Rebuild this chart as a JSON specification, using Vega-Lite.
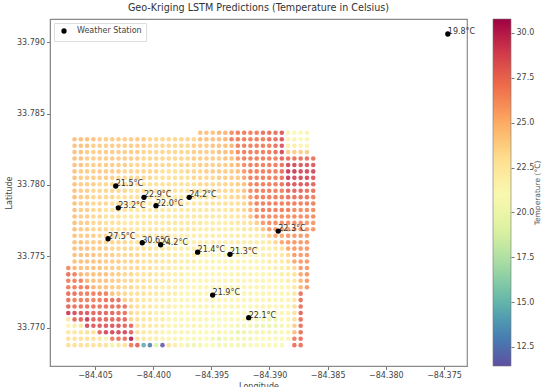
{"$schema":"https://vega.github.io/schema/vega-lite/v6.json","width":417,"height":347,"autosize":{"type":"none"},"padding":{"left":50,"top":19,"right":75,"bottom":21},"background":"white","config":{"font":"DejaVu Sans","view":{"stroke":"#8a8a8a","strokeWidth":1.2}},"title":{"text":"Geo-Kriging LSTM Predictions (Temperature in Celsius)","fontSize":9.6,"fontWeight":"normal","color":"#333","font":"DejaVu Sans","offset":6,"frame":"group"},"datasets":{"grid":[
{"x":-84.39596,"y":33.78365,"t":24.5},{"x":-84.39542,"y":33.78365,"t":24.5},{"x":-84.39488,"y":33.78365,"t":24.5},{"x":-84.39434,"y":33.78365,"t":25},{"x":-84.3938,"y":33.78365,"t":25},{"x":-84.39326,"y":33.78365,"t":26.5},{"x":-84.39272,"y":33.78365,"t":27},{"x":-84.39218,"y":33.78365,"t":27},{"x":-84.39164,"y":33.78365,"t":27},{"x":-84.3911,"y":33.78365,"t":27},{"x":-84.39056,"y":33.78365,"t":27.5},{"x":-84.39002,"y":33.78365,"t":27.5},{"x":-84.38948,"y":33.78365,"t":27.5},{"x":-84.38894,"y":33.78365,"t":28.5},{"x":-84.3884,"y":33.78365,"t":21.5},{"x":-84.38786,"y":33.78365,"t":21},{"x":-84.38732,"y":33.78365,"t":21},{"x":-84.38678,"y":33.78365,"t":21.5},
{"x":-84.40676,"y":33.7832,"t":24.5},{"x":-84.40622,"y":33.7832,"t":24.5},{"x":-84.40568,"y":33.7832,"t":24.5},{"x":-84.40514,"y":33.7832,"t":24.5},{"x":-84.4046,"y":33.7832,"t":24},{"x":-84.40406,"y":33.7832,"t":24},{"x":-84.40352,"y":33.7832,"t":24},{"x":-84.40298,"y":33.7832,"t":24},{"x":-84.40244,"y":33.7832,"t":24},{"x":-84.4019,"y":33.7832,"t":24},{"x":-84.40136,"y":33.7832,"t":24},{"x":-84.40082,"y":33.7832,"t":24},{"x":-84.40028,"y":33.7832,"t":23.5},{"x":-84.39974,"y":33.7832,"t":23.5},{"x":-84.3992,"y":33.7832,"t":23.5},{"x":-84.39866,"y":33.7832,"t":23.5},{"x":-84.39812,"y":33.7832,"t":23.5},{"x":-84.39758,"y":33.7832,"t":23.5},{"x":-84.39704,"y":33.7832,"t":23.5},{"x":-84.3965,"y":33.7832,"t":23.5},{"x":-84.39596,"y":33.7832,"t":24.5},{"x":-84.39542,"y":33.7832,"t":24.5},{"x":-84.39488,"y":33.7832,"t":24.5},{"x":-84.39434,"y":33.7832,"t":24.5},{"x":-84.3938,"y":33.7832,"t":25},{"x":-84.39326,"y":33.7832,"t":27},{"x":-84.39272,"y":33.7832,"t":27},{"x":-84.39218,"y":33.7832,"t":27},{"x":-84.39164,"y":33.7832,"t":27},{"x":-84.3911,"y":33.7832,"t":27},{"x":-84.39056,"y":33.7832,"t":27},{"x":-84.39002,"y":33.7832,"t":27.5},{"x":-84.38948,"y":33.7832,"t":27.5},{"x":-84.38894,"y":33.7832,"t":28.5},{"x":-84.3884,"y":33.7832,"t":21.5},{"x":-84.38786,"y":33.7832,"t":21.5},{"x":-84.38732,"y":33.7832,"t":21},{"x":-84.38678,"y":33.7832,"t":21.5},
{"x":-84.40676,"y":33.78275,"t":24.5},{"x":-84.40622,"y":33.78275,"t":24.5},{"x":-84.40568,"y":33.78275,"t":24.5},{"x":-84.40514,"y":33.78275,"t":24},{"x":-84.4046,"y":33.78275,"t":24},{"x":-84.40406,"y":33.78275,"t":24},{"x":-84.40352,"y":33.78275,"t":24},{"x":-84.40298,"y":33.78275,"t":24},{"x":-84.40244,"y":33.78275,"t":24},{"x":-84.4019,"y":33.78275,"t":24},{"x":-84.40136,"y":33.78275,"t":24},{"x":-84.40082,"y":33.78275,"t":24},{"x":-84.40028,"y":33.78275,"t":23.5},{"x":-84.39974,"y":33.78275,"t":23.5},{"x":-84.3992,"y":33.78275,"t":23.5},{"x":-84.39866,"y":33.78275,"t":23.5},{"x":-84.39812,"y":33.78275,"t":23.5},{"x":-84.39758,"y":33.78275,"t":23.5},{"x":-84.39704,"y":33.78275,"t":23.5},{"x":-84.3965,"y":33.78275,"t":24},{"x":-84.39596,"y":33.78275,"t":24},{"x":-84.39542,"y":33.78275,"t":24},{"x":-84.39488,"y":33.78275,"t":24.5},{"x":-84.39434,"y":33.78275,"t":24.5},{"x":-84.3938,"y":33.78275,"t":24.5},{"x":-84.39326,"y":33.78275,"t":25},{"x":-84.39272,"y":33.78275,"t":27},{"x":-84.39218,"y":33.78275,"t":27},{"x":-84.39164,"y":33.78275,"t":27},{"x":-84.3911,"y":33.78275,"t":27},{"x":-84.39056,"y":33.78275,"t":27},{"x":-84.39002,"y":33.78275,"t":27},{"x":-84.38948,"y":33.78275,"t":27.5},{"x":-84.38894,"y":33.78275,"t":28.5},{"x":-84.3884,"y":33.78275,"t":22},{"x":-84.38786,"y":33.78275,"t":22},{"x":-84.38732,"y":33.78275,"t":21.5},{"x":-84.38678,"y":33.78275,"t":21.5},
{"x":-84.40676,"y":33.7823,"t":24.5},{"x":-84.40622,"y":33.7823,"t":24.5},{"x":-84.40568,"y":33.7823,"t":24},{"x":-84.40514,"y":33.7823,"t":24},{"x":-84.4046,"y":33.7823,"t":24},{"x":-84.40406,"y":33.7823,"t":24},{"x":-84.40352,"y":33.7823,"t":24},{"x":-84.40298,"y":33.7823,"t":24},{"x":-84.40244,"y":33.7823,"t":24},{"x":-84.4019,"y":33.7823,"t":24},{"x":-84.40136,"y":33.7823,"t":24},{"x":-84.40082,"y":33.7823,"t":23.5},{"x":-84.40028,"y":33.7823,"t":23.5},{"x":-84.39974,"y":33.7823,"t":23.5},{"x":-84.3992,"y":33.7823,"t":23.5},{"x":-84.39866,"y":33.7823,"t":23.5},{"x":-84.39812,"y":33.7823,"t":23.5},{"x":-84.39758,"y":33.7823,"t":23.5},{"x":-84.39704,"y":33.7823,"t":23.5},{"x":-84.3965,"y":33.7823,"t":24},{"x":-84.39596,"y":33.7823,"t":24},{"x":-84.39542,"y":33.7823,"t":24},{"x":-84.39488,"y":33.7823,"t":24},{"x":-84.39434,"y":33.7823,"t":24.5},{"x":-84.3938,"y":33.7823,"t":24.5},{"x":-84.39326,"y":33.7823,"t":25},{"x":-84.39272,"y":33.7823,"t":26.5},{"x":-84.39218,"y":33.7823,"t":27},{"x":-84.39164,"y":33.7823,"t":27},{"x":-84.3911,"y":33.7823,"t":27},{"x":-84.39056,"y":33.7823,"t":27},{"x":-84.39002,"y":33.7823,"t":27},{"x":-84.38948,"y":33.7823,"t":27.5},{"x":-84.38894,"y":33.7823,"t":29},{"x":-84.3884,"y":33.7823,"t":24},{"x":-84.38786,"y":33.7823,"t":24},{"x":-84.38732,"y":33.7823,"t":24},{"x":-84.38678,"y":33.7823,"t":24},
{"x":-84.40676,"y":33.78185,"t":24.5},{"x":-84.40622,"y":33.78185,"t":24.5},{"x":-84.40568,"y":33.78185,"t":24},{"x":-84.40514,"y":33.78185,"t":24},{"x":-84.4046,"y":33.78185,"t":24},{"x":-84.40406,"y":33.78185,"t":24},{"x":-84.40352,"y":33.78185,"t":24},{"x":-84.40298,"y":33.78185,"t":24},{"x":-84.40244,"y":33.78185,"t":24},{"x":-84.4019,"y":33.78185,"t":24},{"x":-84.40136,"y":33.78185,"t":24},{"x":-84.40082,"y":33.78185,"t":23.5},{"x":-84.40028,"y":33.78185,"t":23.5},{"x":-84.39974,"y":33.78185,"t":23.5},{"x":-84.3992,"y":33.78185,"t":23.5},{"x":-84.39866,"y":33.78185,"t":23.5},{"x":-84.39812,"y":33.78185,"t":23.5},{"x":-84.39758,"y":33.78185,"t":23.5},{"x":-84.39704,"y":33.78185,"t":23.5},{"x":-84.3965,"y":33.78185,"t":24},{"x":-84.39596,"y":33.78185,"t":24},{"x":-84.39542,"y":33.78185,"t":24},{"x":-84.39488,"y":33.78185,"t":24},{"x":-84.39434,"y":33.78185,"t":24},{"x":-84.3938,"y":33.78185,"t":24.5},{"x":-84.39326,"y":33.78185,"t":24.5},{"x":-84.39272,"y":33.78185,"t":26},{"x":-84.39218,"y":33.78185,"t":27},{"x":-84.39164,"y":33.78185,"t":27},{"x":-84.3911,"y":33.78185,"t":27},{"x":-84.39056,"y":33.78185,"t":27},{"x":-84.39002,"y":33.78185,"t":27},{"x":-84.38948,"y":33.78185,"t":27},{"x":-84.38894,"y":33.78185,"t":28},{"x":-84.3884,"y":33.78185,"t":27.5},{"x":-84.38786,"y":33.78185,"t":27.5},{"x":-84.38732,"y":33.78185,"t":27.5},{"x":-84.38678,"y":33.78185,"t":27.5},{"x":-84.38624,"y":33.78185,"t":27.5},
{"x":-84.40676,"y":33.7814,"t":24.5},{"x":-84.40622,"y":33.7814,"t":24.5},{"x":-84.40568,"y":33.7814,"t":24},{"x":-84.40514,"y":33.7814,"t":24},{"x":-84.4046,"y":33.7814,"t":24},{"x":-84.40406,"y":33.7814,"t":24},{"x":-84.40352,"y":33.7814,"t":24},{"x":-84.40298,"y":33.7814,"t":24},{"x":-84.40244,"y":33.7814,"t":24},{"x":-84.4019,"y":33.7814,"t":23.5},{"x":-84.40136,"y":33.7814,"t":23.5},{"x":-84.40082,"y":33.7814,"t":23.5},{"x":-84.40028,"y":33.7814,"t":23.5},{"x":-84.39974,"y":33.7814,"t":23.5},{"x":-84.3992,"y":33.7814,"t":23.5},{"x":-84.39866,"y":33.7814,"t":23.5},{"x":-84.39812,"y":33.7814,"t":23},{"x":-84.39758,"y":33.7814,"t":23.5},{"x":-84.39704,"y":33.7814,"t":23.5},{"x":-84.3965,"y":33.7814,"t":23.5},{"x":-84.39596,"y":33.7814,"t":24},{"x":-84.39542,"y":33.7814,"t":24},{"x":-84.39488,"y":33.7814,"t":24},{"x":-84.39434,"y":33.7814,"t":24},{"x":-84.3938,"y":33.7814,"t":24},{"x":-84.39326,"y":33.7814,"t":24.5},{"x":-84.39272,"y":33.7814,"t":25},{"x":-84.39218,"y":33.7814,"t":26.5},{"x":-84.39164,"y":33.7814,"t":27},{"x":-84.3911,"y":33.7814,"t":27},{"x":-84.39056,"y":33.7814,"t":27},{"x":-84.39002,"y":33.7814,"t":27},{"x":-84.38948,"y":33.7814,"t":27},{"x":-84.38894,"y":33.7814,"t":27.5},{"x":-84.3884,"y":33.7814,"t":29},{"x":-84.38786,"y":33.7814,"t":29},{"x":-84.38732,"y":33.7814,"t":28.5},{"x":-84.38678,"y":33.7814,"t":28.5},{"x":-84.38624,"y":33.7814,"t":28.5},
{"x":-84.40676,"y":33.78095,"t":24.5},{"x":-84.40622,"y":33.78095,"t":24},{"x":-84.40568,"y":33.78095,"t":24},{"x":-84.40514,"y":33.78095,"t":24},{"x":-84.4046,"y":33.78095,"t":24},{"x":-84.40406,"y":33.78095,"t":24},{"x":-84.40352,"y":33.78095,"t":24},{"x":-84.40298,"y":33.78095,"t":24},{"x":-84.40244,"y":33.78095,"t":23.5},{"x":-84.4019,"y":33.78095,"t":23.5},{"x":-84.40136,"y":33.78095,"t":23.5},{"x":-84.40082,"y":33.78095,"t":23.5},{"x":-84.40028,"y":33.78095,"t":23.5},{"x":-84.39974,"y":33.78095,"t":23.5},{"x":-84.3992,"y":33.78095,"t":23},{"x":-84.39866,"y":33.78095,"t":23},{"x":-84.39812,"y":33.78095,"t":23},{"x":-84.39758,"y":33.78095,"t":23},{"x":-84.39704,"y":33.78095,"t":23.5},{"x":-84.3965,"y":33.78095,"t":23.5},{"x":-84.39596,"y":33.78095,"t":23.5},{"x":-84.39542,"y":33.78095,"t":24},{"x":-84.39488,"y":33.78095,"t":24},{"x":-84.39434,"y":33.78095,"t":24},{"x":-84.3938,"y":33.78095,"t":24},{"x":-84.39326,"y":33.78095,"t":24},{"x":-84.39272,"y":33.78095,"t":24.5},{"x":-84.39218,"y":33.78095,"t":26},{"x":-84.39164,"y":33.78095,"t":27},{"x":-84.3911,"y":33.78095,"t":27},{"x":-84.39056,"y":33.78095,"t":27},{"x":-84.39002,"y":33.78095,"t":27},{"x":-84.38948,"y":33.78095,"t":27},{"x":-84.38894,"y":33.78095,"t":27.5},{"x":-84.3884,"y":33.78095,"t":29.5},{"x":-84.38786,"y":33.78095,"t":29.5},{"x":-84.38732,"y":33.78095,"t":29},{"x":-84.38678,"y":33.78095,"t":29},{"x":-84.38624,"y":33.78095,"t":29},
{"x":-84.40676,"y":33.7805,"t":24.5},{"x":-84.40622,"y":33.7805,"t":24},{"x":-84.40568,"y":33.7805,"t":24},{"x":-84.40514,"y":33.7805,"t":24},{"x":-84.4046,"y":33.7805,"t":24},{"x":-84.40406,"y":33.7805,"t":24},{"x":-84.40352,"y":33.7805,"t":24},{"x":-84.40298,"y":33.7805,"t":23.5},{"x":-84.40244,"y":33.7805,"t":23.5},{"x":-84.4019,"y":33.7805,"t":23.5},{"x":-84.40136,"y":33.7805,"t":23.5},{"x":-84.40082,"y":33.7805,"t":23.5},{"x":-84.40028,"y":33.7805,"t":23.5},{"x":-84.39974,"y":33.7805,"t":23},{"x":-84.3992,"y":33.7805,"t":23},{"x":-84.39866,"y":33.7805,"t":23},{"x":-84.39812,"y":33.7805,"t":23},{"x":-84.39758,"y":33.7805,"t":23},{"x":-84.39704,"y":33.7805,"t":23},{"x":-84.3965,"y":33.7805,"t":23.5},{"x":-84.39596,"y":33.7805,"t":23.5},{"x":-84.39542,"y":33.7805,"t":23.5},{"x":-84.39488,"y":33.7805,"t":23.5},{"x":-84.39434,"y":33.7805,"t":24},{"x":-84.3938,"y":33.7805,"t":24},{"x":-84.39326,"y":33.7805,"t":24},{"x":-84.39272,"y":33.7805,"t":24},{"x":-84.39218,"y":33.7805,"t":25.5},{"x":-84.39164,"y":33.7805,"t":27},{"x":-84.3911,"y":33.7805,"t":27},{"x":-84.39056,"y":33.7805,"t":27},{"x":-84.39002,"y":33.7805,"t":27},{"x":-84.38948,"y":33.7805,"t":27},{"x":-84.38894,"y":33.7805,"t":27.5},{"x":-84.3884,"y":33.7805,"t":29.5},{"x":-84.38786,"y":33.7805,"t":29},{"x":-84.38732,"y":33.7805,"t":29},{"x":-84.38678,"y":33.7805,"t":29},{"x":-84.38624,"y":33.7805,"t":28.5},
{"x":-84.40676,"y":33.78005,"t":24.5},{"x":-84.40622,"y":33.78005,"t":24},{"x":-84.40568,"y":33.78005,"t":24},{"x":-84.40514,"y":33.78005,"t":24},{"x":-84.4046,"y":33.78005,"t":23.5},{"x":-84.40406,"y":33.78005,"t":23.5},{"x":-84.40352,"y":33.78005,"t":23.5},{"x":-84.40298,"y":33.78005,"t":23.5},{"x":-84.40244,"y":33.78005,"t":23.5},{"x":-84.4019,"y":33.78005,"t":23.5},{"x":-84.40136,"y":33.78005,"t":23.5},{"x":-84.40082,"y":33.78005,"t":23},{"x":-84.40028,"y":33.78005,"t":23},{"x":-84.39974,"y":33.78005,"t":23},{"x":-84.3992,"y":33.78005,"t":23},{"x":-84.39866,"y":33.78005,"t":23},{"x":-84.39812,"y":33.78005,"t":23},{"x":-84.39758,"y":33.78005,"t":23},{"x":-84.39704,"y":33.78005,"t":23},{"x":-84.3965,"y":33.78005,"t":23},{"x":-84.39596,"y":33.78005,"t":23.5},{"x":-84.39542,"y":33.78005,"t":23.5},{"x":-84.39488,"y":33.78005,"t":23.5},{"x":-84.39434,"y":33.78005,"t":23.5},{"x":-84.3938,"y":33.78005,"t":23.5},{"x":-84.39326,"y":33.78005,"t":23.5},{"x":-84.39272,"y":33.78005,"t":24},{"x":-84.39218,"y":33.78005,"t":24.5},{"x":-84.39164,"y":33.78005,"t":26.5},{"x":-84.3911,"y":33.78005,"t":27},{"x":-84.39056,"y":33.78005,"t":27},{"x":-84.39002,"y":33.78005,"t":27},{"x":-84.38948,"y":33.78005,"t":27},{"x":-84.38894,"y":33.78005,"t":27.5},{"x":-84.3884,"y":33.78005,"t":28.5},{"x":-84.38786,"y":33.78005,"t":28.5},{"x":-84.38732,"y":33.78005,"t":28.5},{"x":-84.38678,"y":33.78005,"t":28.5},{"x":-84.38624,"y":33.78005,"t":28},
{"x":-84.40676,"y":33.7796,"t":24.5},{"x":-84.40622,"y":33.7796,"t":24},{"x":-84.40568,"y":33.7796,"t":24},{"x":-84.40514,"y":33.7796,"t":23.5},{"x":-84.4046,"y":33.7796,"t":23.5},{"x":-84.40406,"y":33.7796,"t":23.5},{"x":-84.40352,"y":33.7796,"t":23.5},{"x":-84.40298,"y":33.7796,"t":23.5},{"x":-84.40244,"y":33.7796,"t":23.5},{"x":-84.4019,"y":33.7796,"t":23},{"x":-84.40136,"y":33.7796,"t":23},{"x":-84.40082,"y":33.7796,"t":23},{"x":-84.40028,"y":33.7796,"t":23},{"x":-84.39974,"y":33.7796,"t":23},{"x":-84.3992,"y":33.7796,"t":23},{"x":-84.39866,"y":33.7796,"t":23},{"x":-84.39812,"y":33.7796,"t":23},{"x":-84.39758,"y":33.7796,"t":22.5},{"x":-84.39704,"y":33.7796,"t":23},{"x":-84.3965,"y":33.7796,"t":23},{"x":-84.39596,"y":33.7796,"t":23},{"x":-84.39542,"y":33.7796,"t":23.5},{"x":-84.39488,"y":33.7796,"t":23.5},{"x":-84.39434,"y":33.7796,"t":23.5},{"x":-84.3938,"y":33.7796,"t":23.5},{"x":-84.39326,"y":33.7796,"t":23.5},{"x":-84.39272,"y":33.7796,"t":23.5},{"x":-84.39218,"y":33.7796,"t":24.5},{"x":-84.39164,"y":33.7796,"t":26.5},{"x":-84.3911,"y":33.7796,"t":27},{"x":-84.39056,"y":33.7796,"t":27},{"x":-84.39002,"y":33.7796,"t":27},{"x":-84.38948,"y":33.7796,"t":27},{"x":-84.38894,"y":33.7796,"t":27},{"x":-84.3884,"y":33.7796,"t":28},{"x":-84.38786,"y":33.7796,"t":28},{"x":-84.38732,"y":33.7796,"t":28},{"x":-84.38678,"y":33.7796,"t":27.5},{"x":-84.38624,"y":33.7796,"t":27.5},
{"x":-84.40676,"y":33.77915,"t":24.5},{"x":-84.40622,"y":33.77915,"t":24},{"x":-84.40568,"y":33.77915,"t":24},{"x":-84.40514,"y":33.77915,"t":23.5},{"x":-84.4046,"y":33.77915,"t":23.5},{"x":-84.40406,"y":33.77915,"t":23.5},{"x":-84.40352,"y":33.77915,"t":23.5},{"x":-84.40298,"y":33.77915,"t":23},{"x":-84.40244,"y":33.77915,"t":23},{"x":-84.4019,"y":33.77915,"t":23},{"x":-84.40136,"y":33.77915,"t":23},{"x":-84.40082,"y":33.77915,"t":22.5},{"x":-84.40028,"y":33.77915,"t":22.5},{"x":-84.39974,"y":33.77915,"t":22.5},{"x":-84.3992,"y":33.77915,"t":22.5},{"x":-84.39866,"y":33.77915,"t":22.5},{"x":-84.39812,"y":33.77915,"t":22.5},{"x":-84.39758,"y":33.77915,"t":22.5},{"x":-84.39704,"y":33.77915,"t":22.5},{"x":-84.3965,"y":33.77915,"t":23},{"x":-84.39596,"y":33.77915,"t":23},{"x":-84.39542,"y":33.77915,"t":23},{"x":-84.39488,"y":33.77915,"t":23},{"x":-84.39434,"y":33.77915,"t":23},{"x":-84.3938,"y":33.77915,"t":23},{"x":-84.39326,"y":33.77915,"t":23.5},{"x":-84.39272,"y":33.77915,"t":23.5},{"x":-84.39218,"y":33.77915,"t":24},{"x":-84.39164,"y":33.77915,"t":26},{"x":-84.3911,"y":33.77915,"t":27},{"x":-84.39056,"y":33.77915,"t":27},{"x":-84.39002,"y":33.77915,"t":27},{"x":-84.38948,"y":33.77915,"t":27},{"x":-84.38894,"y":33.77915,"t":27},{"x":-84.3884,"y":33.77915,"t":27.5},{"x":-84.38786,"y":33.77915,"t":27.5},{"x":-84.38732,"y":33.77915,"t":27.5},{"x":-84.38678,"y":33.77915,"t":27.5},{"x":-84.38624,"y":33.77915,"t":27},
{"x":-84.40676,"y":33.7787,"t":24.5},{"x":-84.40622,"y":33.7787,"t":24},{"x":-84.40568,"y":33.7787,"t":24},{"x":-84.40514,"y":33.7787,"t":23.5},{"x":-84.4046,"y":33.7787,"t":23.5},{"x":-84.40406,"y":33.7787,"t":23.5},{"x":-84.40352,"y":33.7787,"t":23},{"x":-84.40298,"y":33.7787,"t":23},{"x":-84.40244,"y":33.7787,"t":23},{"x":-84.4019,"y":33.7787,"t":23},{"x":-84.40136,"y":33.7787,"t":22.5},{"x":-84.40082,"y":33.7787,"t":22.5},{"x":-84.40028,"y":33.7787,"t":22.5},{"x":-84.39974,"y":33.7787,"t":22.5},{"x":-84.3992,"y":33.7787,"t":22.5},{"x":-84.39866,"y":33.7787,"t":22.5},{"x":-84.39812,"y":33.7787,"t":22.5},{"x":-84.39758,"y":33.7787,"t":22.5},{"x":-84.39704,"y":33.7787,"t":22.5},{"x":-84.3965,"y":33.7787,"t":22.5},{"x":-84.39596,"y":33.7787,"t":22.5},{"x":-84.39542,"y":33.7787,"t":23},{"x":-84.39488,"y":33.7787,"t":23},{"x":-84.39434,"y":33.7787,"t":23},{"x":-84.3938,"y":33.7787,"t":23},{"x":-84.39326,"y":33.7787,"t":23},{"x":-84.39272,"y":33.7787,"t":23},{"x":-84.39218,"y":33.7787,"t":23.5},{"x":-84.39164,"y":33.7787,"t":25.5},{"x":-84.3911,"y":33.7787,"t":27},{"x":-84.39056,"y":33.7787,"t":27},{"x":-84.39002,"y":33.7787,"t":27},{"x":-84.38948,"y":33.7787,"t":27},{"x":-84.38894,"y":33.7787,"t":27},{"x":-84.3884,"y":33.7787,"t":27},{"x":-84.38786,"y":33.7787,"t":27},{"x":-84.38732,"y":33.7787,"t":27},{"x":-84.38678,"y":33.7787,"t":27},{"x":-84.38624,"y":33.7787,"t":27},
{"x":-84.40676,"y":33.77825,"t":24.5},{"x":-84.40622,"y":33.77825,"t":24},{"x":-84.40568,"y":33.77825,"t":24},{"x":-84.40514,"y":33.77825,"t":23.5},{"x":-84.4046,"y":33.77825,"t":23.5},{"x":-84.40406,"y":33.77825,"t":23},{"x":-84.40352,"y":33.77825,"t":23},{"x":-84.40298,"y":33.77825,"t":23},{"x":-84.40244,"y":33.77825,"t":23},{"x":-84.4019,"y":33.77825,"t":22.5},{"x":-84.40136,"y":33.77825,"t":22.5},{"x":-84.40082,"y":33.77825,"t":22.5},{"x":-84.40028,"y":33.77825,"t":22.5},{"x":-84.39974,"y":33.77825,"t":22.5},{"x":-84.3992,"y":33.77825,"t":22.5},{"x":-84.39866,"y":33.77825,"t":22.5},{"x":-84.39812,"y":33.77825,"t":22.5},{"x":-84.39758,"y":33.77825,"t":22.5},{"x":-84.39704,"y":33.77825,"t":22.5},{"x":-84.3965,"y":33.77825,"t":22.5},{"x":-84.39596,"y":33.77825,"t":22.5},{"x":-84.39542,"y":33.77825,"t":22.5},{"x":-84.39488,"y":33.77825,"t":22.5},{"x":-84.39434,"y":33.77825,"t":22.5},{"x":-84.3938,"y":33.77825,"t":22.5},{"x":-84.39326,"y":33.77825,"t":23},{"x":-84.39272,"y":33.77825,"t":23},{"x":-84.39218,"y":33.77825,"t":23.5},{"x":-84.39164,"y":33.77825,"t":25},{"x":-84.3911,"y":33.77825,"t":26.5},{"x":-84.39056,"y":33.77825,"t":27},{"x":-84.39002,"y":33.77825,"t":27},{"x":-84.38948,"y":33.77825,"t":27},{"x":-84.38894,"y":33.77825,"t":27},{"x":-84.3884,"y":33.77825,"t":27},{"x":-84.38786,"y":33.77825,"t":26.5},{"x":-84.38732,"y":33.77825,"t":26.5},{"x":-84.38678,"y":33.77825,"t":26.5},{"x":-84.38624,"y":33.77825,"t":26.5},
{"x":-84.40676,"y":33.7778,"t":24.5},{"x":-84.40622,"y":33.7778,"t":24},{"x":-84.40568,"y":33.7778,"t":24},{"x":-84.40514,"y":33.7778,"t":23.5},{"x":-84.4046,"y":33.7778,"t":23.5},{"x":-84.40406,"y":33.7778,"t":23},{"x":-84.40352,"y":33.7778,"t":23},{"x":-84.40298,"y":33.7778,"t":23},{"x":-84.40244,"y":33.7778,"t":22.5},{"x":-84.4019,"y":33.7778,"t":22.5},{"x":-84.40136,"y":33.7778,"t":22.5},{"x":-84.40082,"y":33.7778,"t":22.5},{"x":-84.40028,"y":33.7778,"t":22.5},{"x":-84.39974,"y":33.7778,"t":22.5},{"x":-84.3992,"y":33.7778,"t":22.5},{"x":-84.39866,"y":33.7778,"t":22.5},{"x":-84.39812,"y":33.7778,"t":22.5},{"x":-84.39758,"y":33.7778,"t":22.5},{"x":-84.39704,"y":33.7778,"t":22.5},{"x":-84.3965,"y":33.7778,"t":22.5},{"x":-84.39596,"y":33.7778,"t":22.5},{"x":-84.39542,"y":33.7778,"t":22.5},{"x":-84.39488,"y":33.7778,"t":22.5},{"x":-84.39434,"y":33.7778,"t":22.5},{"x":-84.3938,"y":33.7778,"t":22.5},{"x":-84.39326,"y":33.7778,"t":22.5},{"x":-84.39272,"y":33.7778,"t":22.5},{"x":-84.39218,"y":33.7778,"t":23},{"x":-84.39164,"y":33.7778,"t":24.5},{"x":-84.3911,"y":33.7778,"t":26.5},{"x":-84.39056,"y":33.7778,"t":26.5},{"x":-84.39002,"y":33.7778,"t":26.5},{"x":-84.38948,"y":33.7778,"t":26.5},{"x":-84.38894,"y":33.7778,"t":26.5},{"x":-84.3884,"y":33.7778,"t":26.5},{"x":-84.38786,"y":33.7778,"t":26.5},{"x":-84.38732,"y":33.7778,"t":26.5},{"x":-84.38678,"y":33.7778,"t":26.5},{"x":-84.38624,"y":33.7778,"t":26.5},
{"x":-84.40676,"y":33.77735,"t":24.5},{"x":-84.40622,"y":33.77735,"t":24},{"x":-84.40568,"y":33.77735,"t":24},{"x":-84.40514,"y":33.77735,"t":23.5},{"x":-84.4046,"y":33.77735,"t":23.5},{"x":-84.40406,"y":33.77735,"t":23},{"x":-84.40352,"y":33.77735,"t":23},{"x":-84.40298,"y":33.77735,"t":23},{"x":-84.40244,"y":33.77735,"t":22.5},{"x":-84.4019,"y":33.77735,"t":22.5},{"x":-84.40136,"y":33.77735,"t":22.5},{"x":-84.40082,"y":33.77735,"t":22.5},{"x":-84.40028,"y":33.77735,"t":22.5},{"x":-84.39974,"y":33.77735,"t":22.5},{"x":-84.3992,"y":33.77735,"t":22.5},{"x":-84.39866,"y":33.77735,"t":22.5},{"x":-84.39812,"y":33.77735,"t":22.5},{"x":-84.39758,"y":33.77735,"t":22.5},{"x":-84.39704,"y":33.77735,"t":22.5},{"x":-84.3965,"y":33.77735,"t":22.5},{"x":-84.39596,"y":33.77735,"t":22.5},{"x":-84.39542,"y":33.77735,"t":22},{"x":-84.39488,"y":33.77735,"t":22},{"x":-84.39434,"y":33.77735,"t":22},{"x":-84.3938,"y":33.77735,"t":22},{"x":-84.39326,"y":33.77735,"t":22.5},{"x":-84.39272,"y":33.77735,"t":22.5},{"x":-84.39218,"y":33.77735,"t":22.5},{"x":-84.39164,"y":33.77735,"t":23},{"x":-84.3911,"y":33.77735,"t":24},{"x":-84.39056,"y":33.77735,"t":26},{"x":-84.39002,"y":33.77735,"t":26.5},{"x":-84.38948,"y":33.77735,"t":26.5},{"x":-84.38894,"y":33.77735,"t":26.5},{"x":-84.3884,"y":33.77735,"t":26.5},{"x":-84.38786,"y":33.77735,"t":26.5},{"x":-84.38732,"y":33.77735,"t":26.5},{"x":-84.38678,"y":33.77735,"t":26},{"x":-84.38624,"y":33.77735,"t":26},
{"x":-84.40676,"y":33.7769,"t":24.5},{"x":-84.40622,"y":33.7769,"t":24},{"x":-84.40568,"y":33.7769,"t":24},{"x":-84.40514,"y":33.7769,"t":23.5},{"x":-84.4046,"y":33.7769,"t":23.5},{"x":-84.40406,"y":33.7769,"t":23.5},{"x":-84.40352,"y":33.7769,"t":23},{"x":-84.40298,"y":33.7769,"t":23},{"x":-84.40244,"y":33.7769,"t":23},{"x":-84.4019,"y":33.7769,"t":22.5},{"x":-84.40136,"y":33.7769,"t":22.5},{"x":-84.40082,"y":33.7769,"t":22.5},{"x":-84.40028,"y":33.7769,"t":22.5},{"x":-84.39974,"y":33.7769,"t":22.5},{"x":-84.3992,"y":33.7769,"t":22.5},{"x":-84.39866,"y":33.7769,"t":22.5},{"x":-84.39812,"y":33.7769,"t":22.5},{"x":-84.39758,"y":33.7769,"t":22.5},{"x":-84.39704,"y":33.7769,"t":22.5},{"x":-84.3965,"y":33.7769,"t":22.5},{"x":-84.39596,"y":33.7769,"t":22},{"x":-84.39542,"y":33.7769,"t":22},{"x":-84.39488,"y":33.7769,"t":22},{"x":-84.39434,"y":33.7769,"t":22},{"x":-84.3938,"y":33.7769,"t":22},{"x":-84.39326,"y":33.7769,"t":22},{"x":-84.39272,"y":33.7769,"t":22},{"x":-84.39218,"y":33.7769,"t":22.5},{"x":-84.39164,"y":33.7769,"t":22.5},{"x":-84.3911,"y":33.7769,"t":23},{"x":-84.39056,"y":33.7769,"t":24.5},{"x":-84.39002,"y":33.7769,"t":26},{"x":-84.38948,"y":33.7769,"t":26},{"x":-84.38894,"y":33.7769,"t":26},{"x":-84.3884,"y":33.7769,"t":26},{"x":-84.38786,"y":33.7769,"t":26},{"x":-84.38732,"y":33.7769,"t":26},{"x":-84.38678,"y":33.7769,"t":26},{"x":-84.38624,"y":33.7769,"t":26},
{"x":-84.40676,"y":33.77645,"t":24.5},{"x":-84.40622,"y":33.77645,"t":24},{"x":-84.40568,"y":33.77645,"t":24},{"x":-84.40514,"y":33.77645,"t":24},{"x":-84.4046,"y":33.77645,"t":23.5},{"x":-84.40406,"y":33.77645,"t":23.5},{"x":-84.40352,"y":33.77645,"t":23.5},{"x":-84.40298,"y":33.77645,"t":23},{"x":-84.40244,"y":33.77645,"t":23},{"x":-84.4019,"y":33.77645,"t":23},{"x":-84.40136,"y":33.77645,"t":23},{"x":-84.40082,"y":33.77645,"t":22.5},{"x":-84.40028,"y":33.77645,"t":22.5},{"x":-84.39974,"y":33.77645,"t":22.5},{"x":-84.3992,"y":33.77645,"t":22.5},{"x":-84.39866,"y":33.77645,"t":22.5},{"x":-84.39812,"y":33.77645,"t":22},{"x":-84.39758,"y":33.77645,"t":22},{"x":-84.39704,"y":33.77645,"t":22},{"x":-84.3965,"y":33.77645,"t":22},{"x":-84.39596,"y":33.77645,"t":22},{"x":-84.39542,"y":33.77645,"t":22},{"x":-84.39488,"y":33.77645,"t":22},{"x":-84.39434,"y":33.77645,"t":22},{"x":-84.3938,"y":33.77645,"t":22},{"x":-84.39326,"y":33.77645,"t":22},{"x":-84.39272,"y":33.77645,"t":22},{"x":-84.39218,"y":33.77645,"t":22},{"x":-84.39164,"y":33.77645,"t":22},{"x":-84.3911,"y":33.77645,"t":22},{"x":-84.39056,"y":33.77645,"t":22.5},{"x":-84.39002,"y":33.77645,"t":24},{"x":-84.38948,"y":33.77645,"t":25.5},{"x":-84.38894,"y":33.77645,"t":25.5},{"x":-84.3884,"y":33.77645,"t":26},{"x":-84.38786,"y":33.77645,"t":26},{"x":-84.38732,"y":33.77645,"t":26},{"x":-84.38678,"y":33.77645,"t":26},
{"x":-84.40676,"y":33.776,"t":24.5},{"x":-84.40622,"y":33.776,"t":24.5},{"x":-84.40568,"y":33.776,"t":24},{"x":-84.40514,"y":33.776,"t":24},{"x":-84.4046,"y":33.776,"t":24},{"x":-84.40406,"y":33.776,"t":23.5},{"x":-84.40352,"y":33.776,"t":23.5},{"x":-84.40298,"y":33.776,"t":23.5},{"x":-84.40244,"y":33.776,"t":23.5},{"x":-84.4019,"y":33.776,"t":23},{"x":-84.40136,"y":33.776,"t":23},{"x":-84.40082,"y":33.776,"t":23},{"x":-84.40028,"y":33.776,"t":22.5},{"x":-84.39974,"y":33.776,"t":22.5},{"x":-84.3992,"y":33.776,"t":22.5},{"x":-84.39866,"y":33.776,"t":22},{"x":-84.39812,"y":33.776,"t":22},{"x":-84.39758,"y":33.776,"t":22},{"x":-84.39704,"y":33.776,"t":22},{"x":-84.3965,"y":33.776,"t":22},{"x":-84.39596,"y":33.776,"t":22},{"x":-84.39542,"y":33.776,"t":22},{"x":-84.39488,"y":33.776,"t":22},{"x":-84.39434,"y":33.776,"t":22},{"x":-84.3938,"y":33.776,"t":22},{"x":-84.39326,"y":33.776,"t":22},{"x":-84.39272,"y":33.776,"t":22},{"x":-84.39218,"y":33.776,"t":22},{"x":-84.39164,"y":33.776,"t":22},{"x":-84.3911,"y":33.776,"t":22},{"x":-84.39056,"y":33.776,"t":22},{"x":-84.39002,"y":33.776,"t":22.5},{"x":-84.38948,"y":33.776,"t":23.5},{"x":-84.38894,"y":33.776,"t":25.5},{"x":-84.3884,"y":33.776,"t":26},{"x":-84.38786,"y":33.776,"t":26},{"x":-84.38732,"y":33.776,"t":26},{"x":-84.38678,"y":33.776,"t":26},
{"x":-84.40676,"y":33.77555,"t":24.5},{"x":-84.40622,"y":33.77555,"t":24.5},{"x":-84.40568,"y":33.77555,"t":24.5},{"x":-84.40514,"y":33.77555,"t":24},{"x":-84.4046,"y":33.77555,"t":24},{"x":-84.40406,"y":33.77555,"t":24},{"x":-84.40352,"y":33.77555,"t":23.5},{"x":-84.40298,"y":33.77555,"t":23.5},{"x":-84.40244,"y":33.77555,"t":23.5},{"x":-84.4019,"y":33.77555,"t":23.5},{"x":-84.40136,"y":33.77555,"t":23},{"x":-84.40082,"y":33.77555,"t":23},{"x":-84.40028,"y":33.77555,"t":23},{"x":-84.39974,"y":33.77555,"t":22.5},{"x":-84.3992,"y":33.77555,"t":22.5},{"x":-84.39866,"y":33.77555,"t":22.5},{"x":-84.39812,"y":33.77555,"t":22},{"x":-84.39758,"y":33.77555,"t":22},{"x":-84.39704,"y":33.77555,"t":22},{"x":-84.3965,"y":33.77555,"t":22},{"x":-84.39596,"y":33.77555,"t":22},{"x":-84.39542,"y":33.77555,"t":21.5},{"x":-84.39488,"y":33.77555,"t":21.5},{"x":-84.39434,"y":33.77555,"t":21.5},{"x":-84.3938,"y":33.77555,"t":21.5},{"x":-84.39326,"y":33.77555,"t":21.5},{"x":-84.39272,"y":33.77555,"t":21.5},{"x":-84.39218,"y":33.77555,"t":22},{"x":-84.39164,"y":33.77555,"t":22},{"x":-84.3911,"y":33.77555,"t":22},{"x":-84.39056,"y":33.77555,"t":22},{"x":-84.39002,"y":33.77555,"t":22},{"x":-84.38948,"y":33.77555,"t":22.5},{"x":-84.38894,"y":33.77555,"t":23},{"x":-84.3884,"y":33.77555,"t":25.5},{"x":-84.38786,"y":33.77555,"t":26},{"x":-84.38732,"y":33.77555,"t":26},{"x":-84.38678,"y":33.77555,"t":26},
{"x":-84.40676,"y":33.7751,"t":24.5},{"x":-84.40622,"y":33.7751,"t":24.5},{"x":-84.40568,"y":33.7751,"t":24.5},{"x":-84.40514,"y":33.7751,"t":24.5},{"x":-84.4046,"y":33.7751,"t":24},{"x":-84.40406,"y":33.7751,"t":24},{"x":-84.40352,"y":33.7751,"t":24},{"x":-84.40298,"y":33.7751,"t":23.5},{"x":-84.40244,"y":33.7751,"t":23.5},{"x":-84.4019,"y":33.7751,"t":23.5},{"x":-84.40136,"y":33.7751,"t":23.5},{"x":-84.40082,"y":33.7751,"t":23},{"x":-84.40028,"y":33.7751,"t":23},{"x":-84.39974,"y":33.7751,"t":23},{"x":-84.3992,"y":33.7751,"t":22.5},{"x":-84.39866,"y":33.7751,"t":22.5},{"x":-84.39812,"y":33.7751,"t":22.5},{"x":-84.39758,"y":33.7751,"t":22},{"x":-84.39704,"y":33.7751,"t":22},{"x":-84.3965,"y":33.7751,"t":22},{"x":-84.39596,"y":33.7751,"t":21.5},{"x":-84.39542,"y":33.7751,"t":21.5},{"x":-84.39488,"y":33.7751,"t":21.5},{"x":-84.39434,"y":33.7751,"t":21.5},{"x":-84.3938,"y":33.7751,"t":21.5},{"x":-84.39326,"y":33.7751,"t":21.5},{"x":-84.39272,"y":33.7751,"t":21.5},{"x":-84.39218,"y":33.7751,"t":21.5},{"x":-84.39164,"y":33.7751,"t":21.5},{"x":-84.3911,"y":33.7751,"t":21.5},{"x":-84.39056,"y":33.7751,"t":22},{"x":-84.39002,"y":33.7751,"t":22},{"x":-84.38948,"y":33.7751,"t":22},{"x":-84.38894,"y":33.7751,"t":22.5},{"x":-84.3884,"y":33.7751,"t":23.5},{"x":-84.38786,"y":33.7751,"t":26},{"x":-84.38732,"y":33.7751,"t":26},{"x":-84.38678,"y":33.7751,"t":26},
{"x":-84.40676,"y":33.77465,"t":24.5},{"x":-84.40622,"y":33.77465,"t":24.5},{"x":-84.40568,"y":33.77465,"t":24.5},{"x":-84.40514,"y":33.77465,"t":24.5},{"x":-84.4046,"y":33.77465,"t":24.5},{"x":-84.40406,"y":33.77465,"t":24},{"x":-84.40352,"y":33.77465,"t":24},{"x":-84.40298,"y":33.77465,"t":24},{"x":-84.40244,"y":33.77465,"t":23.5},{"x":-84.4019,"y":33.77465,"t":23.5},{"x":-84.40136,"y":33.77465,"t":23.5},{"x":-84.40082,"y":33.77465,"t":23},{"x":-84.40028,"y":33.77465,"t":23},{"x":-84.39974,"y":33.77465,"t":23},{"x":-84.3992,"y":33.77465,"t":22.5},{"x":-84.39866,"y":33.77465,"t":22.5},{"x":-84.39812,"y":33.77465,"t":22.5},{"x":-84.39758,"y":33.77465,"t":22},{"x":-84.39704,"y":33.77465,"t":22},{"x":-84.3965,"y":33.77465,"t":22},{"x":-84.39596,"y":33.77465,"t":21.5},{"x":-84.39542,"y":33.77465,"t":21.5},{"x":-84.39488,"y":33.77465,"t":21.5},{"x":-84.39434,"y":33.77465,"t":21.5},{"x":-84.3938,"y":33.77465,"t":21.5},{"x":-84.39326,"y":33.77465,"t":21.5},{"x":-84.39272,"y":33.77465,"t":21.5},{"x":-84.39218,"y":33.77465,"t":21.5},{"x":-84.39164,"y":33.77465,"t":21.5},{"x":-84.3911,"y":33.77465,"t":21.5},{"x":-84.39056,"y":33.77465,"t":21.5},{"x":-84.39002,"y":33.77465,"t":22},{"x":-84.38948,"y":33.77465,"t":22},{"x":-84.38894,"y":33.77465,"t":22},{"x":-84.3884,"y":33.77465,"t":23},{"x":-84.38786,"y":33.77465,"t":25.5},{"x":-84.38732,"y":33.77465,"t":26},{"x":-84.38678,"y":33.77465,"t":26},
{"x":-84.4073,"y":33.7742,"t":26.5},{"x":-84.40676,"y":33.7742,"t":25},{"x":-84.40622,"y":33.7742,"t":24.5},{"x":-84.40568,"y":33.7742,"t":24.5},{"x":-84.40514,"y":33.7742,"t":24.5},{"x":-84.4046,"y":33.7742,"t":24.5},{"x":-84.40406,"y":33.7742,"t":24},{"x":-84.40352,"y":33.7742,"t":24},{"x":-84.40298,"y":33.7742,"t":24},{"x":-84.40244,"y":33.7742,"t":23.5},{"x":-84.4019,"y":33.7742,"t":23.5},{"x":-84.40136,"y":33.7742,"t":23.5},{"x":-84.40082,"y":33.7742,"t":23},{"x":-84.40028,"y":33.7742,"t":23},{"x":-84.39974,"y":33.7742,"t":22.5},{"x":-84.3992,"y":33.7742,"t":22.5},{"x":-84.39866,"y":33.7742,"t":22.5},{"x":-84.39812,"y":33.7742,"t":22},{"x":-84.39758,"y":33.7742,"t":22},{"x":-84.39704,"y":33.7742,"t":22},{"x":-84.3965,"y":33.7742,"t":21.5},{"x":-84.39596,"y":33.7742,"t":21.5},{"x":-84.39542,"y":33.7742,"t":21.5},{"x":-84.39488,"y":33.7742,"t":21.5},{"x":-84.39434,"y":33.7742,"t":21.5},{"x":-84.3938,"y":33.7742,"t":21.5},{"x":-84.39326,"y":33.7742,"t":21.5},{"x":-84.39272,"y":33.7742,"t":21.5},{"x":-84.39218,"y":33.7742,"t":21.5},{"x":-84.39164,"y":33.7742,"t":21.5},{"x":-84.3911,"y":33.7742,"t":21.5},{"x":-84.39056,"y":33.7742,"t":21.5},{"x":-84.39002,"y":33.7742,"t":21.5},{"x":-84.38948,"y":33.7742,"t":22},{"x":-84.38894,"y":33.7742,"t":22},{"x":-84.3884,"y":33.7742,"t":22.5},{"x":-84.38786,"y":33.7742,"t":23.5},{"x":-84.38732,"y":33.7742,"t":26},{"x":-84.38678,"y":33.7742,"t":26},
{"x":-84.4073,"y":33.77375,"t":27.5},{"x":-84.40676,"y":33.77375,"t":27},{"x":-84.40622,"y":33.77375,"t":25},{"x":-84.40568,"y":33.77375,"t":24.5},{"x":-84.40514,"y":33.77375,"t":24.5},{"x":-84.4046,"y":33.77375,"t":24.5},{"x":-84.40406,"y":33.77375,"t":24.5},{"x":-84.40352,"y":33.77375,"t":24},{"x":-84.40298,"y":33.77375,"t":24},{"x":-84.40244,"y":33.77375,"t":23.5},{"x":-84.4019,"y":33.77375,"t":23.5},{"x":-84.40136,"y":33.77375,"t":23},{"x":-84.40082,"y":33.77375,"t":23},{"x":-84.40028,"y":33.77375,"t":23},{"x":-84.39974,"y":33.77375,"t":22.5},{"x":-84.3992,"y":33.77375,"t":22.5},{"x":-84.39866,"y":33.77375,"t":22},{"x":-84.39812,"y":33.77375,"t":22},{"x":-84.39758,"y":33.77375,"t":22},{"x":-84.39704,"y":33.77375,"t":21.5},{"x":-84.3965,"y":33.77375,"t":21.5},{"x":-84.39596,"y":33.77375,"t":21.5},{"x":-84.39542,"y":33.77375,"t":21.5},{"x":-84.39488,"y":33.77375,"t":21.5},{"x":-84.39434,"y":33.77375,"t":21.5},{"x":-84.3938,"y":33.77375,"t":21.5},{"x":-84.39326,"y":33.77375,"t":21.5},{"x":-84.39272,"y":33.77375,"t":21.5},{"x":-84.39218,"y":33.77375,"t":21.5},{"x":-84.39164,"y":33.77375,"t":21.5},{"x":-84.3911,"y":33.77375,"t":21.5},{"x":-84.39056,"y":33.77375,"t":21.5},{"x":-84.39002,"y":33.77375,"t":21.5},{"x":-84.38948,"y":33.77375,"t":21.5},{"x":-84.38894,"y":33.77375,"t":22},{"x":-84.3884,"y":33.77375,"t":22},{"x":-84.38786,"y":33.77375,"t":23},{"x":-84.38732,"y":33.77375,"t":25.5},{"x":-84.38678,"y":33.77375,"t":26},
{"x":-84.4073,"y":33.7733,"t":27},{"x":-84.40676,"y":33.7733,"t":27},{"x":-84.40622,"y":33.7733,"t":27},{"x":-84.40568,"y":33.7733,"t":25},{"x":-84.40514,"y":33.7733,"t":24.5},{"x":-84.4046,"y":33.7733,"t":24.5},{"x":-84.40406,"y":33.7733,"t":24.5},{"x":-84.40352,"y":33.7733,"t":24},{"x":-84.40298,"y":33.7733,"t":24},{"x":-84.40244,"y":33.7733,"t":23.5},{"x":-84.4019,"y":33.7733,"t":23.5},{"x":-84.40136,"y":33.7733,"t":23},{"x":-84.40082,"y":33.7733,"t":23},{"x":-84.40028,"y":33.7733,"t":22.5},{"x":-84.39974,"y":33.7733,"t":22.5},{"x":-84.3992,"y":33.7733,"t":22.5},{"x":-84.39866,"y":33.7733,"t":22},{"x":-84.39812,"y":33.7733,"t":22},{"x":-84.39758,"y":33.7733,"t":22},{"x":-84.39704,"y":33.7733,"t":21.5},{"x":-84.3965,"y":33.7733,"t":21.5},{"x":-84.39596,"y":33.7733,"t":21.5},{"x":-84.39542,"y":33.7733,"t":21.5},{"x":-84.39488,"y":33.7733,"t":21.5},{"x":-84.39434,"y":33.7733,"t":21.5},{"x":-84.3938,"y":33.7733,"t":21.5},{"x":-84.39326,"y":33.7733,"t":21.5},{"x":-84.39272,"y":33.7733,"t":21.5},{"x":-84.39218,"y":33.7733,"t":21.5},{"x":-84.39164,"y":33.7733,"t":21.5},{"x":-84.3911,"y":33.7733,"t":21.5},{"x":-84.39056,"y":33.7733,"t":21.5},{"x":-84.39002,"y":33.7733,"t":21.5},{"x":-84.38948,"y":33.7733,"t":21.5},{"x":-84.38894,"y":33.7733,"t":21.5},{"x":-84.3884,"y":33.7733,"t":22},{"x":-84.38786,"y":33.7733,"t":22.5},{"x":-84.38732,"y":33.7733,"t":25},{"x":-84.38678,"y":33.7733,"t":26},
{"x":-84.4073,"y":33.77285,"t":27},{"x":-84.40676,"y":33.77285,"t":27},{"x":-84.40622,"y":33.77285,"t":27},{"x":-84.40568,"y":33.77285,"t":27},{"x":-84.40514,"y":33.77285,"t":25},{"x":-84.4046,"y":33.77285,"t":24.5},{"x":-84.40406,"y":33.77285,"t":24.5},{"x":-84.40352,"y":33.77285,"t":24},{"x":-84.40298,"y":33.77285,"t":24},{"x":-84.40244,"y":33.77285,"t":23.5},{"x":-84.4019,"y":33.77285,"t":23.5},{"x":-84.40136,"y":33.77285,"t":23},{"x":-84.40082,"y":33.77285,"t":23},{"x":-84.40028,"y":33.77285,"t":22.5},{"x":-84.39974,"y":33.77285,"t":22.5},{"x":-84.3992,"y":33.77285,"t":22},{"x":-84.39866,"y":33.77285,"t":22},{"x":-84.39812,"y":33.77285,"t":22},{"x":-84.39758,"y":33.77285,"t":21.5},{"x":-84.39704,"y":33.77285,"t":21.5},{"x":-84.3965,"y":33.77285,"t":21.5},{"x":-84.39596,"y":33.77285,"t":21.5},{"x":-84.39542,"y":33.77285,"t":21.5},{"x":-84.39488,"y":33.77285,"t":21.5},{"x":-84.39434,"y":33.77285,"t":21.5},{"x":-84.3938,"y":33.77285,"t":21.5},{"x":-84.39326,"y":33.77285,"t":21.5},{"x":-84.39272,"y":33.77285,"t":21.5},{"x":-84.39218,"y":33.77285,"t":21.5},{"x":-84.39164,"y":33.77285,"t":21.5},{"x":-84.3911,"y":33.77285,"t":21.5},{"x":-84.39056,"y":33.77285,"t":21.5},{"x":-84.39002,"y":33.77285,"t":21.5},{"x":-84.38948,"y":33.77285,"t":21.5},{"x":-84.38894,"y":33.77285,"t":21.5},{"x":-84.3884,"y":33.77285,"t":21.5},{"x":-84.38786,"y":33.77285,"t":22.5},{"x":-84.38732,"y":33.77285,"t":25},{"x":-84.38678,"y":33.77285,"t":26},
{"x":-84.4073,"y":33.7724,"t":27.5},{"x":-84.40676,"y":33.7724,"t":27.5},{"x":-84.40622,"y":33.7724,"t":27},{"x":-84.40568,"y":33.7724,"t":27},{"x":-84.40514,"y":33.7724,"t":27},{"x":-84.4046,"y":33.7724,"t":27},{"x":-84.40406,"y":33.7724,"t":27},{"x":-84.40352,"y":33.7724,"t":24.5},{"x":-84.40298,"y":33.7724,"t":24},{"x":-84.40244,"y":33.7724,"t":23.5},{"x":-84.4019,"y":33.7724,"t":23},{"x":-84.40136,"y":33.7724,"t":23},{"x":-84.40082,"y":33.7724,"t":23},{"x":-84.40028,"y":33.7724,"t":22.5},{"x":-84.39974,"y":33.7724,"t":22.5},{"x":-84.3992,"y":33.7724,"t":22},{"x":-84.39866,"y":33.7724,"t":22},{"x":-84.39812,"y":33.7724,"t":22},{"x":-84.39758,"y":33.7724,"t":21.5},{"x":-84.39704,"y":33.7724,"t":21.5},{"x":-84.3965,"y":33.7724,"t":21.5},{"x":-84.39596,"y":33.7724,"t":21.5},{"x":-84.39542,"y":33.7724,"t":21.5},{"x":-84.39488,"y":33.7724,"t":21.5},{"x":-84.39434,"y":33.7724,"t":21.5},{"x":-84.3938,"y":33.7724,"t":21.5},{"x":-84.39326,"y":33.7724,"t":21.5},{"x":-84.39272,"y":33.7724,"t":21.5},{"x":-84.39218,"y":33.7724,"t":21.5},{"x":-84.39164,"y":33.7724,"t":21.5},{"x":-84.3911,"y":33.7724,"t":21.5},{"x":-84.39056,"y":33.7724,"t":21.5},{"x":-84.39002,"y":33.7724,"t":21.5},{"x":-84.38948,"y":33.7724,"t":21.5},{"x":-84.38894,"y":33.7724,"t":21.5},{"x":-84.3884,"y":33.7724,"t":21.5},{"x":-84.38786,"y":33.7724,"t":22.5},{"x":-84.38732,"y":33.7724,"t":27.5},
{"x":-84.4073,"y":33.77195,"t":27.5},{"x":-84.40676,"y":33.77195,"t":27},{"x":-84.40622,"y":33.77195,"t":27},{"x":-84.40568,"y":33.77195,"t":27},{"x":-84.40514,"y":33.77195,"t":27},{"x":-84.4046,"y":33.77195,"t":27},{"x":-84.40406,"y":33.77195,"t":27.5},{"x":-84.40352,"y":33.77195,"t":27.5},{"x":-84.40298,"y":33.77195,"t":27.5},{"x":-84.40244,"y":33.77195,"t":24},{"x":-84.4019,"y":33.77195,"t":23.5},{"x":-84.40136,"y":33.77195,"t":23},{"x":-84.40082,"y":33.77195,"t":22.5},{"x":-84.40028,"y":33.77195,"t":22.5},{"x":-84.39974,"y":33.77195,"t":22},{"x":-84.3992,"y":33.77195,"t":22},{"x":-84.39866,"y":33.77195,"t":22},{"x":-84.39812,"y":33.77195,"t":21.5},{"x":-84.39758,"y":33.77195,"t":21.5},{"x":-84.39704,"y":33.77195,"t":21.5},{"x":-84.3965,"y":33.77195,"t":21.5},{"x":-84.39596,"y":33.77195,"t":21.5},{"x":-84.39542,"y":33.77195,"t":21.5},{"x":-84.39488,"y":33.77195,"t":21.5},{"x":-84.39434,"y":33.77195,"t":21.5},{"x":-84.3938,"y":33.77195,"t":21.5},{"x":-84.39326,"y":33.77195,"t":21.5},{"x":-84.39272,"y":33.77195,"t":21.5},{"x":-84.39218,"y":33.77195,"t":21.5},{"x":-84.39164,"y":33.77195,"t":21.5},{"x":-84.3911,"y":33.77195,"t":21.5},{"x":-84.39056,"y":33.77195,"t":21.5},{"x":-84.39002,"y":33.77195,"t":21.5},{"x":-84.38948,"y":33.77195,"t":21.5},{"x":-84.38894,"y":33.77195,"t":21.5},{"x":-84.3884,"y":33.77195,"t":21.5},{"x":-84.38786,"y":33.77195,"t":22.5},{"x":-84.38732,"y":33.77195,"t":27.5},
{"x":-84.4073,"y":33.7715,"t":28},{"x":-84.40676,"y":33.7715,"t":27.5},{"x":-84.40622,"y":33.7715,"t":27.5},{"x":-84.40568,"y":33.7715,"t":27.5},{"x":-84.40514,"y":33.7715,"t":27.5},{"x":-84.4046,"y":33.7715,"t":27.5},{"x":-84.40406,"y":33.7715,"t":27.5},{"x":-84.40352,"y":33.7715,"t":27.5},{"x":-84.40298,"y":33.7715,"t":27.5},{"x":-84.40244,"y":33.7715,"t":27.5},{"x":-84.4019,"y":33.7715,"t":23.5},{"x":-84.40136,"y":33.7715,"t":23},{"x":-84.40082,"y":33.7715,"t":22.5},{"x":-84.40028,"y":33.7715,"t":22.5},{"x":-84.39974,"y":33.7715,"t":22},{"x":-84.3992,"y":33.7715,"t":22},{"x":-84.39866,"y":33.7715,"t":22},{"x":-84.39812,"y":33.7715,"t":21.5},{"x":-84.39758,"y":33.7715,"t":21.5},{"x":-84.39704,"y":33.7715,"t":21.5},{"x":-84.3965,"y":33.7715,"t":21.5},{"x":-84.39596,"y":33.7715,"t":21.5},{"x":-84.39542,"y":33.7715,"t":21.5},{"x":-84.39488,"y":33.7715,"t":21.5},{"x":-84.39434,"y":33.7715,"t":21.5},{"x":-84.3938,"y":33.7715,"t":21.5},{"x":-84.39326,"y":33.7715,"t":21.5},{"x":-84.39272,"y":33.7715,"t":21.5},{"x":-84.39218,"y":33.7715,"t":21},{"x":-84.39164,"y":33.7715,"t":21},{"x":-84.3911,"y":33.7715,"t":21.5},{"x":-84.39056,"y":33.7715,"t":21.5},{"x":-84.39002,"y":33.7715,"t":21.5},{"x":-84.38948,"y":33.7715,"t":21.5},{"x":-84.38894,"y":33.7715,"t":21.5},{"x":-84.3884,"y":33.7715,"t":21.5},{"x":-84.38786,"y":33.7715,"t":23},{"x":-84.38732,"y":33.7715,"t":27.5},
{"x":-84.4073,"y":33.77105,"t":29.5},{"x":-84.40676,"y":33.77105,"t":29},{"x":-84.40622,"y":33.77105,"t":28.5},{"x":-84.40568,"y":33.77105,"t":28.5},{"x":-84.40514,"y":33.77105,"t":28},{"x":-84.4046,"y":33.77105,"t":28},{"x":-84.40406,"y":33.77105,"t":28},{"x":-84.40352,"y":33.77105,"t":28},{"x":-84.40298,"y":33.77105,"t":27.5},{"x":-84.40244,"y":33.77105,"t":27.5},{"x":-84.4019,"y":33.77105,"t":23.5},{"x":-84.40136,"y":33.77105,"t":23},{"x":-84.40082,"y":33.77105,"t":22.5},{"x":-84.40028,"y":33.77105,"t":22.5},{"x":-84.39974,"y":33.77105,"t":22},{"x":-84.3992,"y":33.77105,"t":22},{"x":-84.39866,"y":33.77105,"t":21.5},{"x":-84.39812,"y":33.77105,"t":21.5},{"x":-84.39758,"y":33.77105,"t":21.5},{"x":-84.39704,"y":33.77105,"t":21.5},{"x":-84.3965,"y":33.77105,"t":21.5},{"x":-84.39596,"y":33.77105,"t":21.5},{"x":-84.39542,"y":33.77105,"t":21.5},{"x":-84.39488,"y":33.77105,"t":21.5},{"x":-84.39434,"y":33.77105,"t":21.5},{"x":-84.3938,"y":33.77105,"t":21.5},{"x":-84.39326,"y":33.77105,"t":21},{"x":-84.39272,"y":33.77105,"t":21},{"x":-84.39218,"y":33.77105,"t":21},{"x":-84.39164,"y":33.77105,"t":21},{"x":-84.3911,"y":33.77105,"t":21},{"x":-84.39056,"y":33.77105,"t":21},{"x":-84.39002,"y":33.77105,"t":21},{"x":-84.38948,"y":33.77105,"t":21.5},{"x":-84.38894,"y":33.77105,"t":21.5},{"x":-84.3884,"y":33.77105,"t":21.5},{"x":-84.38786,"y":33.77105,"t":23},{"x":-84.38732,"y":33.77105,"t":28},
{"x":-84.4073,"y":33.7706,"t":22.5},{"x":-84.40676,"y":33.7706,"t":28},{"x":-84.40622,"y":33.7706,"t":28},{"x":-84.40568,"y":33.7706,"t":29.5},{"x":-84.40514,"y":33.7706,"t":28},{"x":-84.4046,"y":33.7706,"t":28},{"x":-84.40406,"y":33.7706,"t":28},{"x":-84.40352,"y":33.7706,"t":28},{"x":-84.40298,"y":33.7706,"t":28},{"x":-84.40244,"y":33.7706,"t":28},{"x":-84.4019,"y":33.7706,"t":23.5},{"x":-84.40136,"y":33.7706,"t":23},{"x":-84.40082,"y":33.7706,"t":22.5},{"x":-84.40028,"y":33.7706,"t":22.5},{"x":-84.39974,"y":33.7706,"t":22},{"x":-84.3992,"y":33.7706,"t":22},{"x":-84.39866,"y":33.7706,"t":21.5},{"x":-84.39812,"y":33.7706,"t":21.5},{"x":-84.39758,"y":33.7706,"t":21.5},{"x":-84.39704,"y":33.7706,"t":21.5},{"x":-84.3965,"y":33.7706,"t":21.5},{"x":-84.39596,"y":33.7706,"t":21.5},{"x":-84.39542,"y":33.7706,"t":21.5},{"x":-84.39488,"y":33.7706,"t":21},{"x":-84.39434,"y":33.7706,"t":21},{"x":-84.3938,"y":33.7706,"t":21},{"x":-84.39326,"y":33.7706,"t":21},{"x":-84.39272,"y":33.7706,"t":21},{"x":-84.39218,"y":33.7706,"t":21},{"x":-84.39164,"y":33.7706,"t":20.5},{"x":-84.3911,"y":33.7706,"t":20.5},{"x":-84.39056,"y":33.7706,"t":20.5},{"x":-84.39002,"y":33.7706,"t":20},{"x":-84.38948,"y":33.7706,"t":20},{"x":-84.38894,"y":33.7706,"t":21},{"x":-84.3884,"y":33.7706,"t":21.5},{"x":-84.38786,"y":33.7706,"t":23},{"x":-84.38732,"y":33.7706,"t":27.5},
{"x":-84.4073,"y":33.77015,"t":21.5},{"x":-84.40676,"y":33.77015,"t":22},{"x":-84.40622,"y":33.77015,"t":22.5},{"x":-84.40568,"y":33.77015,"t":29},{"x":-84.40514,"y":33.77015,"t":28.5},{"x":-84.4046,"y":33.77015,"t":28.5},{"x":-84.40406,"y":33.77015,"t":28.5},{"x":-84.40352,"y":33.77015,"t":28.5},{"x":-84.40298,"y":33.77015,"t":28.5},{"x":-84.40244,"y":33.77015,"t":28},{"x":-84.4019,"y":33.77015,"t":28},{"x":-84.40136,"y":33.77015,"t":23},{"x":-84.40082,"y":33.77015,"t":22.5},{"x":-84.40028,"y":33.77015,"t":22.5},{"x":-84.39974,"y":33.77015,"t":22},{"x":-84.3992,"y":33.77015,"t":22},{"x":-84.39866,"y":33.77015,"t":21.5},{"x":-84.39812,"y":33.77015,"t":21.5},{"x":-84.39758,"y":33.77015,"t":21.5},{"x":-84.39704,"y":33.77015,"t":21.5},{"x":-84.3965,"y":33.77015,"t":21.5},{"x":-84.39596,"y":33.77015,"t":21.5},{"x":-84.39542,"y":33.77015,"t":21},{"x":-84.39488,"y":33.77015,"t":21},{"x":-84.39434,"y":33.77015,"t":21},{"x":-84.3938,"y":33.77015,"t":21},{"x":-84.39326,"y":33.77015,"t":21},{"x":-84.39272,"y":33.77015,"t":20.5},{"x":-84.39218,"y":33.77015,"t":20.5},{"x":-84.39164,"y":33.77015,"t":20.5},{"x":-84.3911,"y":33.77015,"t":19.5},{"x":-84.39056,"y":33.77015,"t":20},{"x":-84.39002,"y":33.77015,"t":20},{"x":-84.38948,"y":33.77015,"t":20},{"x":-84.38894,"y":33.77015,"t":20.5},{"x":-84.3884,"y":33.77015,"t":21.5},{"x":-84.38786,"y":33.77015,"t":24},{"x":-84.38732,"y":33.77015,"t":27.5},
{"x":-84.4073,"y":33.7697,"t":22.5},{"x":-84.40676,"y":33.7697,"t":22.5},{"x":-84.40622,"y":33.7697,"t":22.5},{"x":-84.40568,"y":33.7697,"t":23},{"x":-84.40514,"y":33.7697,"t":23},{"x":-84.4046,"y":33.7697,"t":28},{"x":-84.40406,"y":33.7697,"t":29},{"x":-84.40352,"y":33.7697,"t":29},{"x":-84.40298,"y":33.7697,"t":29},{"x":-84.40244,"y":33.7697,"t":29},{"x":-84.4019,"y":33.7697,"t":28},{"x":-84.40136,"y":33.7697,"t":23},{"x":-84.40082,"y":33.7697,"t":22.5},{"x":-84.40028,"y":33.7697,"t":22},{"x":-84.39974,"y":33.7697,"t":22},{"x":-84.3992,"y":33.7697,"t":21.5},{"x":-84.39866,"y":33.7697,"t":21.5},{"x":-84.39812,"y":33.7697,"t":21.5},{"x":-84.39758,"y":33.7697,"t":21.5},{"x":-84.39704,"y":33.7697,"t":21.5},{"x":-84.3965,"y":33.7697,"t":21},{"x":-84.39596,"y":33.7697,"t":21},{"x":-84.39542,"y":33.7697,"t":21},{"x":-84.39488,"y":33.7697,"t":21},{"x":-84.39434,"y":33.7697,"t":20.5},{"x":-84.3938,"y":33.7697,"t":21},{"x":-84.39326,"y":33.7697,"t":20.5},{"x":-84.39272,"y":33.7697,"t":19.5},{"x":-84.39218,"y":33.7697,"t":20},{"x":-84.39164,"y":33.7697,"t":20.5},{"x":-84.3911,"y":33.7697,"t":20.5},{"x":-84.39056,"y":33.7697,"t":20.5},{"x":-84.39002,"y":33.7697,"t":20.5},{"x":-84.38948,"y":33.7697,"t":20.5},{"x":-84.38894,"y":33.7697,"t":21},{"x":-84.3884,"y":33.7697,"t":21.5},{"x":-84.38786,"y":33.7697,"t":24.5},{"x":-84.38732,"y":33.7697,"t":27.5},
{"x":-84.4073,"y":33.76925,"t":23},{"x":-84.40676,"y":33.76925,"t":23},{"x":-84.40622,"y":33.76925,"t":23},{"x":-84.40568,"y":33.76925,"t":23},{"x":-84.40514,"y":33.76925,"t":23},{"x":-84.4046,"y":33.76925,"t":22.5},{"x":-84.40406,"y":33.76925,"t":20.5},{"x":-84.40352,"y":33.76925,"t":27},{"x":-84.40298,"y":33.76925,"t":27.5},{"x":-84.40244,"y":33.76925,"t":27.5},{"x":-84.4019,"y":33.76925,"t":30.5},{"x":-84.40136,"y":33.76925,"t":23},{"x":-84.40082,"y":33.76925,"t":22.5},{"x":-84.40028,"y":33.76925,"t":22},{"x":-84.39974,"y":33.76925,"t":22},{"x":-84.3992,"y":33.76925,"t":21.5},{"x":-84.39866,"y":33.76925,"t":21.5},{"x":-84.39812,"y":33.76925,"t":21.5},{"x":-84.39758,"y":33.76925,"t":21.5},{"x":-84.39704,"y":33.76925,"t":21},{"x":-84.3965,"y":33.76925,"t":21},{"x":-84.39596,"y":33.76925,"t":21},{"x":-84.39542,"y":33.76925,"t":21},{"x":-84.39488,"y":33.76925,"t":20.5},{"x":-84.39434,"y":33.76925,"t":19.5},{"x":-84.3938,"y":33.76925,"t":20.5},{"x":-84.39326,"y":33.76925,"t":20.5},{"x":-84.39272,"y":33.76925,"t":20.5},{"x":-84.39218,"y":33.76925,"t":20.5},{"x":-84.39164,"y":33.76925,"t":20.5},{"x":-84.3911,"y":33.76925,"t":21},{"x":-84.39056,"y":33.76925,"t":21},{"x":-84.39002,"y":33.76925,"t":21},{"x":-84.38948,"y":33.76925,"t":21},{"x":-84.38894,"y":33.76925,"t":21},{"x":-84.3884,"y":33.76925,"t":21.5},{"x":-84.38786,"y":33.76925,"t":27},{"x":-84.38732,"y":33.76925,"t":27.5},
{"x":-84.4073,"y":33.7688,"t":23},{"x":-84.40676,"y":33.7688,"t":23},{"x":-84.40622,"y":33.7688,"t":23},{"x":-84.40568,"y":33.7688,"t":23},{"x":-84.40514,"y":33.7688,"t":23},{"x":-84.4046,"y":33.7688,"t":23},{"x":-84.40406,"y":33.7688,"t":23},{"x":-84.40352,"y":33.7688,"t":20},{"x":-84.40298,"y":33.7688,"t":22.5},{"x":-84.40244,"y":33.7688,"t":23},{"x":-84.4019,"y":33.7688,"t":27},{"x":-84.40136,"y":33.7688,"t":28},{"x":-84.40082,"y":33.7688,"t":14.5},{"x":-84.40028,"y":33.7688,"t":12.8},{"x":-84.39974,"y":33.7688,"t":19},{"x":-84.3992,"y":33.7688,"t":11.6},{"x":-84.39866,"y":33.7688,"t":23},{"x":-84.39812,"y":33.7688,"t":22},{"x":-84.39758,"y":33.7688,"t":21.5},{"x":-84.39704,"y":33.7688,"t":20},{"x":-84.3965,"y":33.7688,"t":20},{"x":-84.39596,"y":33.7688,"t":20.5},{"x":-84.39542,"y":33.7688,"t":21},{"x":-84.39488,"y":33.7688,"t":21},{"x":-84.39434,"y":33.7688,"t":20.5},{"x":-84.3938,"y":33.7688,"t":20.5},{"x":-84.39326,"y":33.7688,"t":20.5},{"x":-84.39272,"y":33.7688,"t":20.5},{"x":-84.39218,"y":33.7688,"t":20.5},{"x":-84.39164,"y":33.7688,"t":21},{"x":-84.3911,"y":33.7688,"t":21},{"x":-84.39056,"y":33.7688,"t":21},{"x":-84.39002,"y":33.7688,"t":21},{"x":-84.38948,"y":33.7688,"t":21},{"x":-84.38894,"y":33.7688,"t":21},{"x":-84.38786,"y":33.7688,"t":27.5},{"x":-84.38732,"y":33.7688,"t":27.5}
],"stations":[{"x":-84.37467,"y":33.79056,"l":"19.8°C","n":"Weather Station"},{"x":-84.40322,"y":33.77993,"l":"21.5°C","n":"Weather Station"},{"x":-84.40079,"y":33.77914,"l":"22.9°C","n":"Weather Station"},{"x":-84.403,"y":33.7784,"l":"23.2°C","n":"Weather Station"},{"x":-84.39976,"y":33.77855,"l":"22.0°C","n":"Weather Station"},{"x":-84.40388,"y":33.77624,"l":"27.5°C","n":"Weather Station"},{"x":-84.40094,"y":33.77596,"l":"30.6°C","n":"Weather Station"},{"x":-84.39936,"y":33.77582,"l":"24.2°C","n":"Weather Station"},{"x":-84.3969,"y":33.77914,"l":"24.2°C","n":"Weather Station"},{"x":-84.38925,"y":33.77678,"l":"22.3°C","n":"Weather Station"},{"x":-84.39618,"y":33.7753,"l":"21.4°C","n":"Weather Station"},{"x":-84.3934,"y":33.77515,"l":"21.3°C","n":"Weather Station"},{"x":-84.39489,"y":33.7723,"l":"21.9°C","n":"Weather Station"},{"x":-84.39179,"y":33.77072,"l":"22.1°C","n":"Weather Station"}],"bar":[{"t":12.5},{"t":30}]},"layer":[{"data":{"name":"grid"},"mark":{"type":"circle","size":21,"opacity":0.85},"encoding":{"x":{"field":"x","type":"quantitative","scale":{"domain":[-84.40887,-84.37302],"nice":false,"zero":false},"axis":{"title":"Longitude","values":[-84.405,-84.4,-84.395,-84.39,-84.385,-84.38,-84.375],"format":".3f","grid":false,"labelFontSize":8,"titleFontSize":8,"titleFontWeight":"normal","labelColor":"#444","titleColor":"#444","tickColor":"#777","domainColor":"#8a8a8a","tickSize":3.5,"titlePadding":3}},"y":{"field":"y","type":"quantitative","scale":{"domain":[33.76734,33.79161],"nice":false,"zero":false},"axis":{"title":"Latitude","values":[33.77,33.775,33.78,33.785,33.79],"format":".3f","grid":false,"labelFontSize":8,"titleFontSize":8,"titleFontWeight":"normal","labelColor":"#444","titleColor":"#444","tickColor":"#777","domainColor":"#8a8a8a","tickSize":3.5,"titlePadding":3}},"color":{"field":"t","type":"quantitative","scale":{"scheme":"spectral","reverse":true,"domain":[11.44,30.78]},"legend":{"orient":"none","legendX":443,"legendY":0,"gradientLength":347,"gradientThickness":18,"gradientOpacity":1,"title":null,"labelOpacity":0,"labelFontSize":1,"tickCount":2,"gradientStrokeColor":"#777","gradientStrokeWidth":0.6}}}},{"data":{"name":"stations"},"mark":{"type":"text","align":"left","baseline":"middle","dx":0,"dy":-2,"fontSize":8,"color":"#333"},"encoding":{"x":{"field":"x","type":"quantitative"},"y":{"field":"y","type":"quantitative","scale":{"domain":[33.76734,33.79161],"nice":false,"zero":false},"axis":null},"text":{"field":"l"}}},{"data":{"name":"stations"},"mark":{"type":"point","filled":true,"size":28,"opacity":1},"encoding":{"x":{"field":"x","type":"quantitative"},"y":{"field":"y","type":"quantitative","scale":{"domain":[33.76734,33.79161],"nice":false,"zero":false},"axis":null},"fill":{"value":"#000"},"shape":{"field":"n","type":"nominal","scale":{"range":["circle"]},"legend":{"title":null,"orient":"none","legendX":4,"legendY":4,"fillColor":"white","strokeColor":"#ddd","padding":4,"symbolFillColor":"#000","symbolStrokeColor":"#000","symbolSize":28,"labelFontSize":8,"labelColor":"#444","labelOffset":9,"symbolOffset":2}}}},{"data":{"name":"bar"},"mark":{"type":"rule","opacity":0},"encoding":{"y":{"field":"t","type":"quantitative","scale":{"domain":[11.44,30.78],"nice":false,"zero":false},"axis":{"orient":"right","offset":44,"values":[12.5,15,17.5,20,22.5,25,27.5,30],"format":".1f","grid":false,"domain":false,"title":"Temperature (°C)","titleAngle":270,"titleFontSize":7.5,"titleFontWeight":"normal","titleColor":"#555","labelFontSize":8,"labelColor":"#444","tickColor":"#777","tickSize":3,"titlePadding":8}}}}],"resolve":{"scale":{"y":"independent"},"axis":{"y":"independent"}}}
